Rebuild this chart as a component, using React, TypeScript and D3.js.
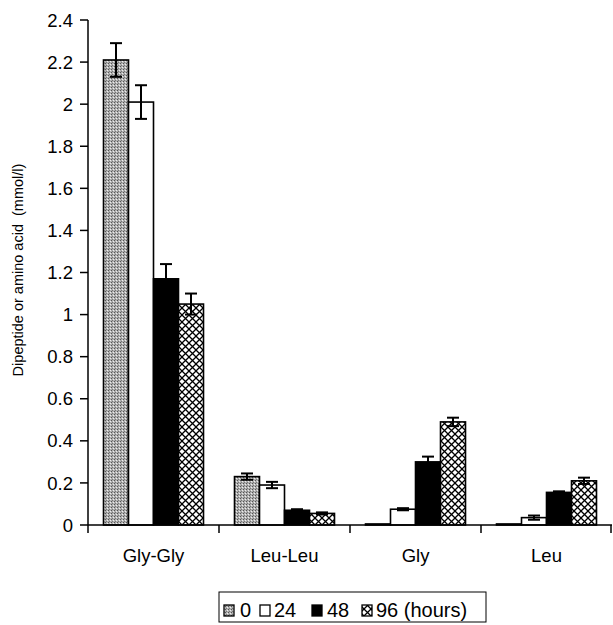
import * as d3 from 'd3'

const CATEGORIES = ['Gly-Gly', 'Leu-Leu', 'Gly', 'Leu']
const SERIES = ['0', '24', '48', '96']
const VALUES_0 = [2.21, 0.23, 0.005, 0.005]
const VALUES_24 = [2.01, 0.19, 0.075, 0.035]
const VALUES_48 = [1.17, 0.07, 0.3, 0.155]
const VALUES_96 = [1.05, 0.055, 0.49, 0.21]
const ERR_0 = [0.08, 0.015, 0, 0]
const ERR_24 = [0.08, 0.015, 0.005, 0.01]
const ERR_48 = [0.07, 0.005, 0.025, 0.005]
const ERR_96 = [0.05, 0.005, 0.02, 0.015]
const Y_TICKS = [0, 0.2, 0.4, 0.6, 0.8, 1, 1.2, 1.4, 1.6, 1.8, 2, 2.2, 2.4]
const LEGEND_LABELS = ['0', '24', '48', '96 (hours)']

const W = 613
const H = 625
const font = 'Arial, "Liberation Sans", sans-serif'

export default function App() {
  const left = 88
  const right = 612
  const top = 20
  const bottom = 525

  const x = d3.scaleBand<string>().domain(CATEGORIES).range([left, right])
  const inner = d3.scaleBand<string>().domain(SERIES).range([0, x.bandwidth()]).paddingOuter(0.62).paddingInner(0)
  const y = d3.scaleLinear().domain([0, 2.4]).range([bottom, top])

  const vals = [VALUES_0, VALUES_24, VALUES_48, VALUES_96]
  const errs = [ERR_0, ERR_24, ERR_48, ERR_96]
  const fills = ['url(#dots)', '#fff', '#000', 'url(#hatch)']

  // legend layout
  const swatchX = [224, 260, 312, 362]
  const labelX = [240, 274, 327, 376]

  return (
    <svg width={W} height={H} style={{ position: 'absolute', left: 0, top: 0, background: '#fff' }}>
      <defs>
        <pattern id="dots" width="3" height="3" patternUnits="userSpaceOnUse">
          <rect width="3" height="3" fill="#b0b0b0" />
          <rect x="0" y="0" width="1" height="1" fill="#555" />
          <rect x="2" y="1" width="1" height="1" fill="#eee" />
          <rect x="1" y="2" width="1" height="1" fill="#777" />
        </pattern>
        <pattern id="hatch" width="7" height="7" patternUnits="userSpaceOnUse">
          <rect width="7" height="7" fill="#fff" />
          <path d="M0,0 L7,7 M7,0 L0,7" stroke="#000" strokeWidth={1.3} />
        </pattern>
      </defs>

      {/* bars */}
      {CATEGORIES.map((c, ci) => (
        <g key={c}>
          {SERIES.map((s, si) => {
            const v = vals[si][ci]
            const e = errs[si][ci]
            const bx = (x(c) ?? 0) + (inner(s) ?? 0)
            const bw = inner.bandwidth()
            const cx = bx + bw / 2
            return (
              <g key={s}>
                <rect x={bx} y={y(v)} width={bw} height={bottom - y(v)} fill={fills[si]} stroke="#000" strokeWidth={1.6} />
                {e > 0 && (
                  <g stroke="#000" strokeWidth={2}>
                    <line x1={cx} x2={cx} y1={y(v + e)} y2={y(v - e)} />
                    <line x1={cx - 6} x2={cx + 6} y1={y(v + e)} y2={y(v + e)} />
                    <line x1={cx - 6} x2={cx + 6} y1={y(v - e)} y2={y(v - e)} />
                  </g>
                )}
              </g>
            )
          })}
        </g>
      ))}

      {/* y axis */}
      <line x1={left} x2={left} y1={top} y2={bottom} stroke="#000" strokeWidth={1.5} />
      {Y_TICKS.map(t => (
        <g key={t}>
          <line x1={left - 8} x2={left} y1={y(t)} y2={y(t)} stroke="#000" strokeWidth={1.5} />
          <text x={left - 15} y={y(t)} dy="0.36em" textAnchor="end" fontFamily={font} fontSize={18.5}>
            {d3.format('')(+t.toFixed(1))}
          </text>
        </g>
      ))}
      <text transform="translate(23,270) rotate(-90)" textAnchor="middle" fontFamily={font} fontSize={14.5} style={{ whiteSpace: 'pre' }}>
        {'Dipeptide or amino acid  (mmol/l)'}
      </text>

      {/* x axis */}
      <line x1={left} x2={right} y1={bottom} y2={bottom} stroke="#000" strokeWidth={1.5} />
      {[...CATEGORIES.map(c => x(c) ?? 0), right - 1].map((t, i) => (
        <line key={i} x1={t} x2={t} y1={bottom} y2={bottom + 8} stroke="#000" strokeWidth={1.5} />
      ))}
      {CATEGORIES.map(c => (
        <text key={c} x={(x(c) ?? 0) + x.bandwidth() / 2} y={562} textAnchor="middle" fontFamily={font} fontSize={18.5}>
          {c}
        </text>
      ))}

      {/* legend */}
      <rect x={219} y={592} width={267} height={30} fill="#fff" stroke="#000" strokeWidth={1} />
      {LEGEND_LABELS.map((label, i) => (
        <g key={label}>
          <rect x={swatchX[i]} y={605} width={10} height={11} fill={fills[i]} stroke="#000" strokeWidth={1.3} />
          <text x={labelX[i]} y={617} fontFamily={font} fontSize={20}>
            {label}
          </text>
        </g>
      ))}
    </svg>
  )
}
